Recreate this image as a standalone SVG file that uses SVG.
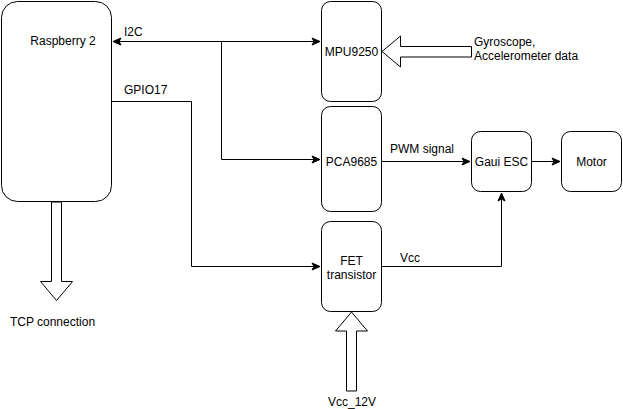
<svg xmlns="http://www.w3.org/2000/svg" width="623" height="409" viewBox="0 0 623 409">
<style>
.box{fill:#fff;stroke:#000;stroke-width:1}
.t{font-family:"Liberation Sans",Arial,sans-serif;font-size:12px;fill:#000}
.m{text-anchor:middle}
.c{fill:none;stroke:#000;stroke-width:1}
.h{fill:#fff;stroke:#000;stroke-width:1}
</style>
<defs>
<marker id="a" markerWidth="10" markerHeight="10" viewBox="0 0 10 10" refX="9" refY="5" orient="auto-start-reverse" markerUnits="userSpaceOnUse">
<path d="M1,1.5 L9,5 L1,8.5 L3,5 Z" fill="#000" stroke="#000" stroke-width="1"/>
</marker>
</defs>
<rect width="623" height="409" fill="#fff"/>
<g id="connectors">
<path class="c" d="M113,41.5 H320" marker-start="url(#a)" marker-end="url(#a)"/>
<path class="c" d="M221.5,41.5 V159.5 H320" marker-end="url(#a)"/>
<path class="c" d="M111.5,101.5 H191.5 V266.5 H320" marker-end="url(#a)"/>
<path class="c" d="M381.5,161.5 H470" marker-end="url(#a)"/>
<path class="c" d="M531.5,161.5 H560" marker-end="url(#a)"/>
<path class="c" d="M381.5,266.5 H501.5 V193" marker-end="url(#a)"/>
<path class="h" d="M471.5,46.5 H400.5 V36 L382,51.5 L400.5,67 V57 H471.5 Z"/>
<path class="h" d="M346.5,391 V331 H335.5 L351.5,312 L367.5,331 H356.5 V391 Z"/>
<path class="h" d="M51.5,202 V281.5 H40.5 L56.5,300.5 L72.5,281.5 H61.5 V202 Z"/>
</g>
<g id="raspberry">
<rect class="box" x="1.5" y="1.5" width="110" height="200" rx="16"/>
<text class="t m" x="63" y="45">Raspberry 2</text>
</g>
<g id="mpu9250">
<rect class="box" x="321.5" y="1.5" width="60" height="100" rx="9"/>
<text class="t m" x="351.5" y="56">MPU9250</text>
</g>
<g id="pca9685">
<rect class="box" x="321.5" y="106.5" width="60" height="105" rx="9"/>
<text class="t m" x="351.5" y="166">PCA9685</text>
</g>
<g id="fet">
<rect class="box" x="321.5" y="221.5" width="60" height="90" rx="9"/>
<text class="t m" x="351.5" y="265">FET</text>
<text class="t m" x="351.5" y="279">transistor</text>
</g>
<g id="gaui">
<rect class="box" x="471.5" y="131.5" width="60" height="60" rx="9"/>
<text class="t m" x="501.5" y="166">Gaui ESC</text>
</g>
<g id="motor">
<rect class="box" x="561.5" y="131.5" width="60" height="60" rx="9"/>
<text class="t m" x="591.5" y="166">Motor</text>
</g>
<g id="labels">
<text class="t" x="124" y="36">I2C</text>
<text class="t" x="124" y="94">GPIO17</text>
<text class="t" x="390" y="153">PWM signal</text>
<text class="t" x="400" y="262">Vcc</text>
<text class="t" x="474" y="46">Gyroscope,</text>
<text class="t" x="474" y="60">Accelerometer data</text>
<text class="t m" x="52.5" y="326">TCP connection</text>
<text class="t m" x="352" y="406">Vcc_12V</text>
</g>
</svg>
